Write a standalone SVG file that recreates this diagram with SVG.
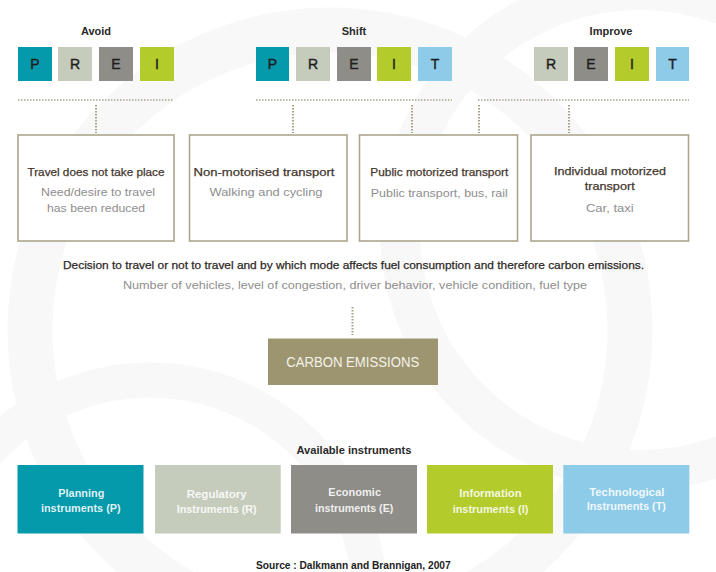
<svg xmlns="http://www.w3.org/2000/svg" width="716" height="572" viewBox="0 0 716 572">
<defs>
<style>
text{font-family:"Liberation Sans","Noto Sans",Arial,sans-serif;text-anchor:middle;dominant-baseline:central}
.hdr{font-size:11px;font-weight:bold;fill:#2a2a2a}
.sq{font-size:14px;fill:#1e1e1e;stroke:#1e1e1e;stroke-width:0.4}
.title{font-size:11px;fill:#45372f;stroke:#45372f;stroke-width:0.25}
.sub{font-size:11px;fill:#8e8e8e}
.box{fill:#ffffff;stroke:#aba68d;stroke-width:1.6}
.dot{stroke:#a8a287;stroke-width:2;stroke-dasharray:1.5 1.5;fill:none}
.dh{stroke:#aaa58b;stroke-width:1.6;stroke-dasharray:1.5 1.5;fill:none}
.inst{font-size:11px;font-weight:bold;fill:#ffffff;fill-opacity:0.88}
.P{fill:#0499ab}.R{fill:#c5ccbc}.E{fill:#8e8d88}.I{fill:#b3cb2b}.T{fill:#8dcbe9}
</style>
</defs>
<rect x="0" y="0" width="716" height="572" fill="#ffffff"/>
<g id="background" fill="none" stroke="#f8f8f8">
<circle cx="330" cy="330" r="300" stroke-width="45"/>
<circle cx="640" cy="230" r="240" stroke-width="40"/>
<circle cx="150" cy="600" r="220" stroke-width="35"/>
</g>

<g id="avoid">
<text class="hdr" x="96" y="31">Avoid</text>
<rect class="P" x="18" y="47" width="34" height="34"/><text class="sq" x="35" y="64">P</text>
<rect class="R" x="58" y="47" width="34" height="34"/><text class="sq" x="75" y="64">R</text>
<rect class="E" x="99" y="47" width="34" height="34"/><text class="sq" x="116" y="64">E</text>
<rect class="I" x="140" y="47" width="34" height="34"/><text class="sq" x="157" y="64">I</text>
</g>
<g id="shift">
<text class="hdr" x="354" y="31">Shift</text>
<rect class="P" x="256" y="47" width="33" height="34"/><text class="sq" x="272.5" y="64">P</text>
<rect class="R" x="296" y="47" width="34" height="34"/><text class="sq" x="313" y="64">R</text>
<rect class="E" x="337" y="47" width="34" height="34"/><text class="sq" x="354" y="64">E</text>
<rect class="I" x="377" y="47" width="34" height="34"/><text class="sq" x="394" y="64">I</text>
<rect class="T" x="418" y="47" width="34" height="34"/><text class="sq" x="435" y="64">T</text>
</g>
<g id="improve">
<text class="hdr" x="611" y="31">Improve</text>
<rect class="R" x="534" y="47" width="34" height="34"/><text class="sq" x="551" y="64">R</text>
<rect class="E" x="574" y="47" width="34" height="34"/><text class="sq" x="591" y="64">E</text>
<rect class="I" x="615" y="47" width="34" height="34"/><text class="sq" x="632" y="64">I</text>
<rect class="T" x="656" y="47" width="33" height="34"/><text class="sq" x="672.5" y="64">T</text>
</g>

<g id="connectors">
<line class="dh" x1="18" y1="100" x2="174" y2="100"/>
<line class="dh" x1="256" y1="100" x2="452" y2="100"/>
<line class="dh" x1="478" y1="100" x2="689" y2="100"/>
<line class="dot" x1="96" y1="105" x2="96" y2="133"/>
<line class="dot" x1="293" y1="105" x2="293" y2="133"/>
<line class="dot" x1="412" y1="105" x2="412" y2="133"/>
<line class="dot" x1="479" y1="105" x2="479" y2="133"/>
<line class="dot" x1="569" y1="105" x2="569" y2="133"/>
<line class="dot" x1="352.5" y1="307" x2="352.5" y2="335"/>
</g>

<g id="box-travel">
<rect class="box" x="18" y="135" width="156" height="106"/>
<text class="title" x="96" y="171.5" textLength="137" lengthAdjust="spacingAndGlyphs">Travel does not take place</text>
<text class="sub" x="98" y="192.3" textLength="114" lengthAdjust="spacingAndGlyphs">Need/desire to travel</text>
<text class="sub" x="96" y="208.3" textLength="98" lengthAdjust="spacingAndGlyphs">has been reduced</text>
</g>
<g id="box-nonmotorised">
<rect class="box" x="189.5" y="135" width="157.5" height="106"/>
<text class="title" x="264" y="171.5" textLength="141" lengthAdjust="spacingAndGlyphs">Non-motorised transport</text>
<text class="sub" x="266" y="192.3" textLength="113" lengthAdjust="spacingAndGlyphs">Walking and cycling</text>
</g>
<g id="box-public">
<rect class="box" x="359.5" y="135" width="158" height="106"/>
<text class="title" x="439.3" y="171.5" textLength="138" lengthAdjust="spacingAndGlyphs">Public motorized transport</text>
<text class="sub" x="439.3" y="192.5" textLength="137" lengthAdjust="spacingAndGlyphs">Public transport, bus, rail</text>
</g>
<g id="box-individual">
<rect class="box" x="531" y="135" width="157.5" height="106"/>
<text class="title" x="610" y="170.7" textLength="112" lengthAdjust="spacingAndGlyphs">Individual motorized</text>
<text class="title" x="609.7" y="185.7" textLength="50" lengthAdjust="spacingAndGlyphs">transport</text>
<text class="sub" x="609.8" y="208.3" textLength="47.7" lengthAdjust="spacingAndGlyphs">Car, taxi</text>
</g>

<g id="decision">
<text x="353.5" y="265" font-size="11" fill="#2e2a28" stroke="#2e2a28" stroke-width="0.25" textLength="581" lengthAdjust="spacingAndGlyphs">Decision to travel or not to travel and by which mode affects fuel consumption and therefore carbon emissions.</text>
<text x="355" y="285" font-size="11" fill="#8e8e8e" textLength="464" lengthAdjust="spacingAndGlyphs">Number of vehicles, level of congestion, driver behavior, vehicle condition, fuel type</text>
</g>

<g id="carbon">
<rect x="268" y="338.5" width="170" height="46.5" fill="#9c9570"/>
<text x="352.7" y="362" font-size="14" fill="#f4f2e8" textLength="133" lengthAdjust="spacingAndGlyphs">CARBON EMISSIONS</text>
</g>

<g id="instruments-title">
<text class="hdr" x="354" y="450" textLength="115" lengthAdjust="spacingAndGlyphs">Available instruments</text>
</g>
<g id="inst-P">
<rect class="P" x="17.5" y="465" width="126" height="68.5"/>
<text class="inst" x="81.3" y="493.3" textLength="46" lengthAdjust="spacingAndGlyphs">Planning</text>
<text class="inst" x="80.8" y="508.3" textLength="79.7" lengthAdjust="spacingAndGlyphs">instruments (P)</text>
</g>
<g id="inst-R">
<rect class="R" x="155" y="465" width="125.7" height="68.5"/>
<text class="inst" x="216.7" y="494.3" textLength="60" lengthAdjust="spacingAndGlyphs">Regulatory</text>
<text class="inst" x="216.7" y="509.3" textLength="80" lengthAdjust="spacingAndGlyphs">Instruments (R)</text>
</g>
<g id="inst-E">
<rect class="E" x="291" y="465" width="126" height="68.5"/>
<text class="inst" x="354.7" y="491.7" textLength="52.7" lengthAdjust="spacingAndGlyphs">Economic</text>
<text class="inst" x="354.2" y="507.7" textLength="78.3" lengthAdjust="spacingAndGlyphs">instruments (E)</text>
</g>
<g id="inst-I">
<rect class="I" x="427" y="465" width="126" height="68.5"/>
<text class="inst" x="490.5" y="493.3" textLength="62.3" lengthAdjust="spacingAndGlyphs">Information</text>
<text class="inst" x="490.5" y="509" textLength="75.7" lengthAdjust="spacingAndGlyphs">instruments (I)</text>
</g>
<g id="inst-T">
<rect class="T" x="563.3" y="465" width="126" height="68.5"/>
<text class="inst" x="626.8" y="491.7" textLength="75" lengthAdjust="spacingAndGlyphs">Technological</text>
<text class="inst" x="626.3" y="506" textLength="79.3" lengthAdjust="spacingAndGlyphs">Instruments (T)</text>
</g>

<g id="source">
<text x="353.3" y="565" font-size="10" font-weight="bold" fill="#1e1e1e" textLength="194.7" lengthAdjust="spacingAndGlyphs">Source : Dalkmann and Brannigan, 2007</text>
</g>
</svg>
